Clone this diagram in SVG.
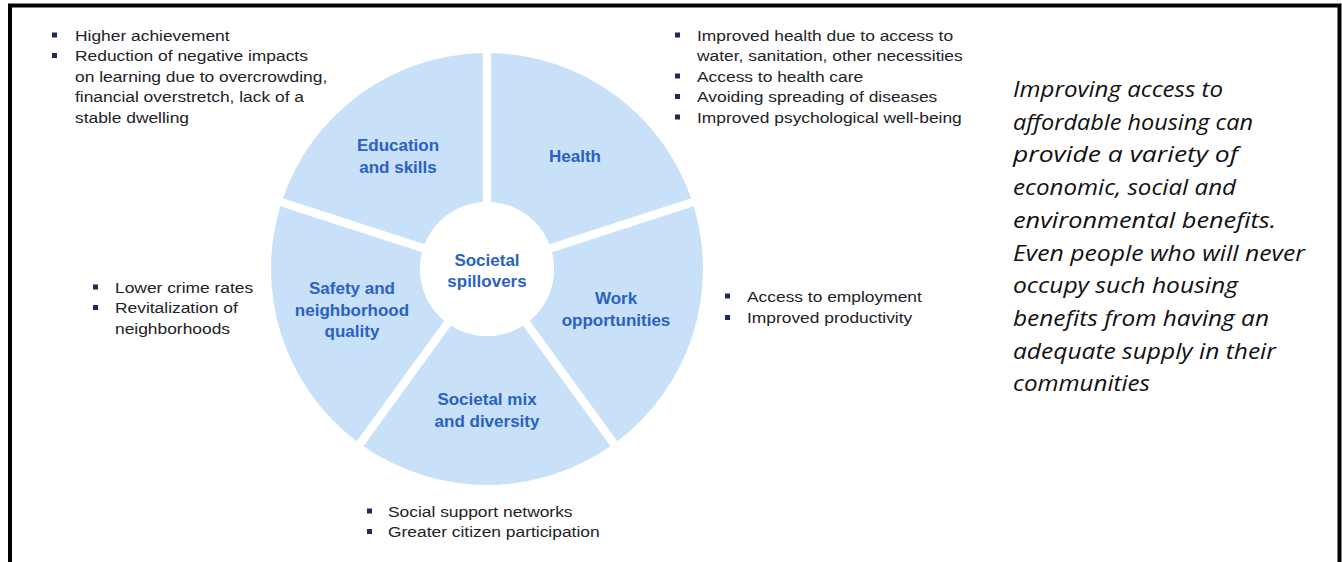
<svg xmlns="http://www.w3.org/2000/svg" width="1342" height="562" viewBox="0 0 1342 562">
<style>
.seg{fill:#c8e0f8;}
.lbl{font-family:"Liberation Sans",Arial,sans-serif;font-weight:bold;font-size:17px;fill:#2a62c4;text-anchor:middle;}
.bt{font-family:"Liberation Sans",Arial,sans-serif;font-size:14.5px;fill:#222226;}
.bu{fill:#1d2a5c;}
.it{font-family:"Open Sans","Liberation Sans",sans-serif;font-style:italic;font-size:22px;fill:#111;}
</style>
<rect x="0" y="0" width="1342" height="562" fill="#ffffff"/>
<path d="M10,562 V5.5 H1339.5 V562" fill="none" stroke="#000" stroke-width="4"/>

<g id="health">
<path class="seg" d="M491.2,202.132 L491.2,53.041 A216,216 0 0 1 691.091,198.271 L549.297,244.342 A67,67 0 0 0 491.2,202.132 Z"/>
<text class="lbl" x="575" y="161.5">Health</text>
</g>
<g id="work">
<path class="seg" d="M551.893,252.33 L693.687,206.259 A216,216 0 0 1 617.335,441.245 L529.702,320.628 A67,67 0 0 0 551.893,252.33 Z"/>
<text class="lbl" x="616" y="304">Work</text>
<text class="lbl" x="616" y="325.5">opportunities</text>
</g>
<g id="mix">
<path class="seg" d="M522.906,325.566 L610.539,446.183 A216,216 0 0 1 363.461,446.183 L451.094,325.566 A67,67 0 0 0 522.906,325.566 Z"/>
<text class="lbl" x="487" y="405">Societal mix</text>
<text class="lbl" x="487" y="426.5">and diversity</text>
</g>
<g id="safety">
<path class="seg" d="M444.298,320.628 L356.665,441.245 A216,216 0 0 1 280.313,206.259 L422.107,252.33 A67,67 0 0 0 444.298,320.628 Z"/>
<text class="lbl" x="352" y="294">Safety and</text>
<text class="lbl" x="352" y="315.5">neighborhood</text>
<text class="lbl" x="352" y="337">quality</text>
</g>
<g id="education">
<path class="seg" d="M424.703,244.342 L282.909,198.271 A216,216 0 0 1 482.8,53.041 L482.8,202.132 A67,67 0 0 0 424.703,244.342 Z"/>
<text class="lbl" x="398" y="150.5">Education</text>
<text class="lbl" x="398" y="172.5">and skills</text>
</g>
<g id="center">
<circle cx="487" cy="269" r="67" fill="#ffffff"/>
<text class="lbl" x="487" y="265.5">Societal</text>
<text class="lbl" x="487" y="287">spillovers</text>
</g>

<g id="connectors"></g>

<g id="education-notes">
<rect class="bu" x="52" y="32.5" width="5" height="5"/>
<rect class="bu" x="52" y="53" width="5" height="5"/>
<g transform="translate(75,0) scale(1.2,1)">
<text class="bt" x="0" y="41">Higher achievement</text>
<text class="bt" x="0" y="61.5">Reduction of negative impacts</text>
<text class="bt" x="0" y="82">on learning due to overcrowding,</text>
<text class="bt" x="0" y="102.5">financial overstretch, lack of a</text>
<text class="bt" x="0" y="123">stable dwelling</text>
</g>
</g>
<g id="health-notes">
<rect class="bu" x="675" y="32.5" width="5" height="5"/>
<rect class="bu" x="675" y="73.5" width="5" height="5"/>
<rect class="bu" x="675" y="94" width="5" height="5"/>
<rect class="bu" x="675" y="114.5" width="5" height="5"/>
<g transform="translate(697,0) scale(1.2,1)">
<text class="bt" x="0" y="41">Improved health due to access to</text>
<text class="bt" x="0" y="61.5">water, sanitation, other necessities</text>
<text class="bt" x="0" y="82">Access to health care</text>
<text class="bt" x="0" y="102.5">Avoiding spreading of diseases</text>
<text class="bt" x="0" y="123">Improved psychological well-being</text>
</g>
</g>
<g id="safety-notes">
<rect class="bu" x="93" y="284.5" width="5" height="5"/>
<rect class="bu" x="93" y="305" width="5" height="5"/>
<g transform="translate(115,0) scale(1.2,1)">
<text class="bt" x="0" y="293">Lower crime rates</text>
<text class="bt" x="0" y="313.5">Revitalization of</text>
<text class="bt" x="0" y="334">neighborhoods</text>
</g>
</g>
<g id="work-notes">
<rect class="bu" x="725" y="293.5" width="5" height="5"/>
<rect class="bu" x="725" y="315" width="5" height="5"/>
<g transform="translate(747,0) scale(1.2,1)">
<text class="bt" x="0" y="302">Access to employment</text>
<text class="bt" x="0" y="323.5">Improved productivity</text>
</g>
</g>
<g id="mix-notes">
<rect class="bu" x="367" y="508.5" width="5" height="5"/>
<rect class="bu" x="367" y="529" width="5" height="5"/>
<g transform="translate(388,0) scale(1.2,1)">
<text class="bt" x="0" y="517">Social support networks</text>
<text class="bt" x="0" y="537.5">Greater citizen participation</text>
</g>
</g>

<g id="summary">
<text class="it" x="1013" y="97" textLength="210" lengthAdjust="spacingAndGlyphs">Improving access to</text>
<text class="it" x="1013" y="129.7" textLength="240" lengthAdjust="spacingAndGlyphs">affordable housing can</text>
<text class="it" x="1013" y="162.4" textLength="225" lengthAdjust="spacingAndGlyphs">provide a variety of</text>
<text class="it" x="1013" y="195.1" textLength="223" lengthAdjust="spacingAndGlyphs">economic, social and</text>
<text class="it" x="1013" y="227.8" textLength="263" lengthAdjust="spacingAndGlyphs">environmental benefits.</text>
<text class="it" x="1013" y="260.5" textLength="292" lengthAdjust="spacingAndGlyphs">Even people who will never</text>
<text class="it" x="1013" y="293.2" textLength="225" lengthAdjust="spacingAndGlyphs">occupy such housing</text>
<text class="it" x="1013" y="325.9" textLength="256" lengthAdjust="spacingAndGlyphs">benefits from having an</text>
<text class="it" x="1013" y="358.6" textLength="263" lengthAdjust="spacingAndGlyphs">adequate supply in their</text>
<text class="it" x="1013" y="391.3" textLength="137" lengthAdjust="spacingAndGlyphs">communities</text>
</g>
</svg>
